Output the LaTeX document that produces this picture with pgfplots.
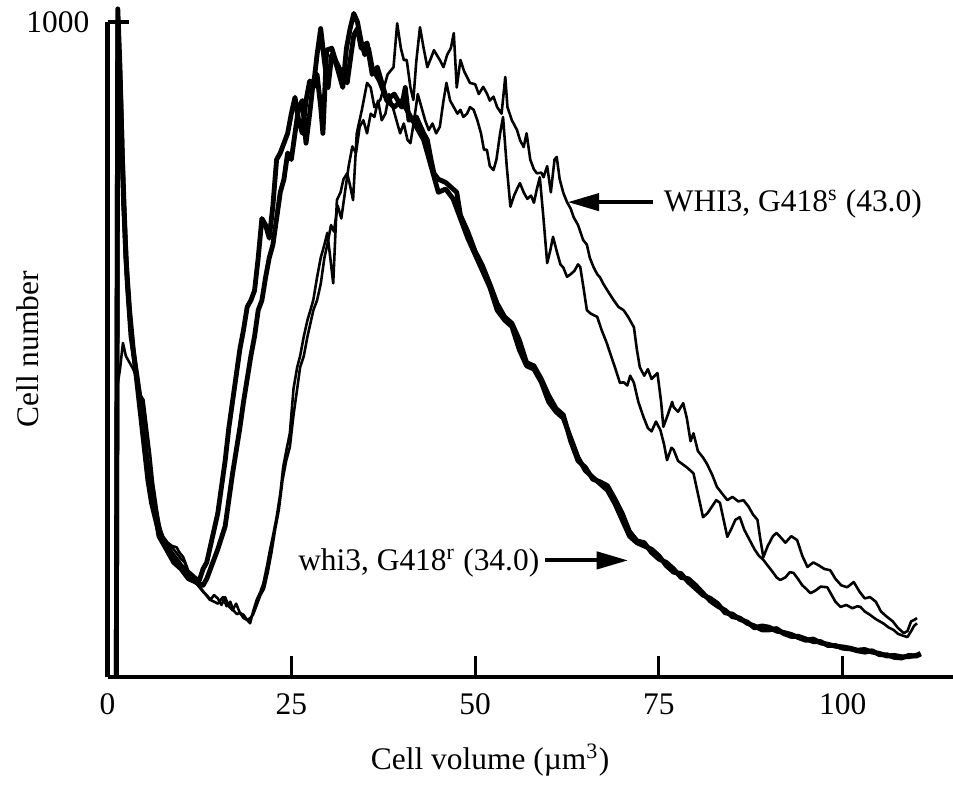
\documentclass[border=0pt]{standalone}
\usepackage{fontspec}
\setmainfont{Liberation Serif}
\usepackage{pgfplots}
\pgfplotsset{compat=1.18}
\usetikzlibrary{arrows.meta}

\begin{document}
\fontsize{11}{13}\selectfont
\begin{tikzpicture}[font=\fontsize{11}{13}\selectfont]
\path[use as bounding box] (-37.625pt,-38.5pt) rectangle (295.925pt,236.95pt);
\begin{axis}[
  scale only axis, width=295.925pt, height=229.25pt,
  anchor=south west, at={(0pt,0pt)},
  xmin=0, xmax=115, ymin=0, ymax=1000,
  axis x line=bottom, axis y line=left,
  axis line style={line width=1.5pt, -},
  tick align=inside, major tick length=7.5pt,
  every tick/.style={line width=1.1pt, black},
  xtick={0,25,50,75,100}, ytick={1000},
  /pgf/number format/assume math mode=true,
  /pgf/number format/set thousands separator={},
  xticklabel style={yshift=-2pt, font=\fontsize{11}{13}\selectfont},
  yticklabel style={xshift=-2.5pt, font=\fontsize{11}{13}\selectfont},
  xlabel={Cell volume (µm\textsuperscript{3})},
  ylabel={Cell number},
  label style={font=\fontsize{11}{13}\selectfont},
  xlabel style={at={(axis description cs:0.4525,-0.1265)}, anchor=center},
  ylabel style={at={(axis description cs:-0.094,0.5)}, anchor=center, rotate=0},
  clip=false,
  every axis plot/.style={black, line join=round, mark=none},
]
% thick curve A1 (whi3, G418r)
\addplot[line width=1.7pt] table {
1.2 0
1.4 1020
1.7 930
2.0 800
2.5 640
3 560
3.5 500
4 450
4.5 400
5 350
5.5 300
6 265
7 220
8 200
9 185
10 170
11 160
12 150
12.5 148
13 165
13.5 175
14 200
15 250
15.5 290
16 330
16.5 380
17 420
17.5 460
18 500
18.5 530
19 565
19.5 575
20 590
20.5 640
21 700
21.5 690
22 670
22.5 720
23 790
23.5 800
24 815
24.5 830
25 860
25.5 885
26 850
26.5 830
27 880
27.5 910
28 900
28.5 950
29 990
29.5 940
30 900
30.5 950
31 940
31.5 920
32 900
32.5 960
33 990
33.5 1013
34 1000
34.5 970
35 950
35.5 960
36 930
37 910
38 880
39 870
40 880
41 860
42 840
43 820
44 780
45 740
46 745
47 730
48 700
49 670
50 645
51 620
52 595
53 560
54 545
55 535
56 500
57 475
58 470
59 450
60 420
61 405
62 395
63 365
64 335
65 315
66 305
67 295
68 285
69 265
70 240
71 215
72 205
73 200
74 195
75 185
76 170
77 160
78 158
79 145
80 135
81 125
82 120
83 112
84 98
85 96
86 88
87 84
88 75
89 78
90 76
91 70
92 68
93 65
94 60
95 56
96 58
97 52
98 50
99 47
100 46
101 44
102 41
103 42
104 38
105 36
106 32
107 33
108 31
109 31
110 33
110.6 36
};
% thick curve A2
\addplot[line width=1.7pt] table {
1.2 0
1.4 1000
1.8 880
2.2 720
2.7 600
3.2 520
4 460
4.5 420
5 372
5.5 320
6 280
6.5 250
7 215
8 195
9 175
10 165
11 150
12 145
13 140
13.5 150
14 165
14.5 180
15 195
16 230
16.5 270
17 310
17.5 345
18 380
18.5 420
19 455
19.5 490
20 520
20.5 560
21 575
21.5 610
22 640
22.5 660
23 700
23.5 740
24 760
24.5 800
25 790
25.5 830
26 870
26.5 880
27 815
27.5 860
28 910
28.5 920
29 870
29.3 830
29.8 957
30.5 960
31 942
31.5 930
32 920
32.6 907
33 940
33.5 980
34 990
34.5 960
35.3 968
36 920
36.7 931
37.5 900
38 881
39 890
40 870
40.5 900
41 850
42 855
43 830
43.5 820
44 790
44.4 769
45 760
46 755
47 745
47.5 740
48 705
49 680
50 650
51 628
52 600
53 570
54 550
55 540
56 515
57 480
58 475
59 455
60 430
61 410
62 400
63 360
64 330
65 320
66 302
67 298
68 292
69 272
70 250
71 222
72 208
73 205
74 190
75 180
76 175
77 165
78 152
79 150
80 140
81 128
82 116
83 108
84 102
85 92
86 90
87 82
88 78
89 72
90 72
91 74
92 66
93 62
94 62
95 58
96 54
97 54
98 48
99 48
100 44
101 43
102 40
103 38
104 40
105 34
106 34
107 30
108 29
109 33
110 32
110.6 35
};
% thin curve B1 (WHI3, G418s)
\addplot[line width=0.9pt] table {
1.2 0
1.4 1010
1.7 900
2.0 760
2.5 620
3 540
3.5 490
4 450
4.5 410
5 375
5.5 330
6 300
6.5 265
7 235
7.5 215
8 205
8.5 200
9 195
9.5 188
10 180
10.5 175
11 160
11.5 150
12 145
12.5 137
13 130
13.5 125
14 118
14.5 125
15 120
15.5 110
16 122
16.5 108
17 102
17.5 112
18 98
18.5 95
19 87
19.4 82
19.8 100
20.3 118
20.8 130
21.2 143
21.7 170
22.1 194
22.5 215
23 244
23.5 280
23.9 321
24.4 350
24.8 372
25.3 440
25.8 473
26.2 490
26.7 520
27.2 545
27.6 560
28 576
28.5 610
29 640
29.5 660
29.9 678
30.3 640
30.7 601
31.2 728
31.7 740
32.1 760
32.6 769
33 750
33.4 728
33.9 830
34.6 866
35.3 907
35.8 900
36.3 870
37.1 881
37.6 900
38.1 920
38.9 931
39.4 998
39.9 960
40.3 942
40.7 942
41.2 900
41.6 881
42 940
42.5 992
43 960
43.5 931
44 945
44.4 957
45.2 942
45.7 931
46.2 950
46.7 960
47.1 983
47.5 900
48 942
48.5 925
49.3 907
50 905
50.5 890
51.1 901
51.6 891
52 880
52.5 886
53 870
53.6 860
54.1 916
54.4 870
55 850
55.7 835
56.1 820
56.6 809
57 830
57.5 790
58 775
58.4 769
59 770
59.3 763
59.8 780
60.3 740
60.8 790
61.1 794
61.5 760
62 739
62.5 725
63 715
63.4 702
64 690
64.7 667
65.2 660
65.6 640
66.1 626
66.6 615
67 610
67.4 601
68 590
68.8 576
69.5 565
70.2 560
70.8 550
71.6 534
72 500
72.4 473
73 460
73.5 470
74 455
74.8 464
75.3 420
75.6 382
76.2 400
76.8 420
77 412
77.6 405
78.3 418
78.8 395
79.3 360
79.7 372
80.3 345
81 335
81.5 326
82.2 310
82.9 290
83.6 280
84.3 270
85 275
85.8 268
86.5 270
87.2 260
87.8 248
88.4 240
88.8 210
89.2 183
89.8 200
90.5 215
91 220
91.5 214
92.2 205
93 215
93.8 209
94.5 185
95.2 168
96 175
96.8 170
97.5 165
98.3 163
99 150
99.8 140
100.6 137
101.5 145
102.3 130
103 120
103.7 122
104.5 115
105.2 100
106 92
106.8 85
107.5 75
108.3 67
108.8 70
109.3 85
109.7 87
110.1 90
};
% thin curve B2
\addplot[line width=0.9pt] table {
1.2 0
1.3 440
1.7 470
2.1 510
2.5 490
3 480
3.5 470
4 455
4.5 430
4.9 423
5.4 377
5.8 340
6.2 296
6.8 250
7.2 225
7.6 214
8.2 205
8.8 200
9.4 198
9.8 190
10.3 183
10.8 168
11.2 153
11.8 145
12.6 137
13.2 128
13.9 118
14.5 115
15 112
15.7 122
16.2 108
16.7 115
17.1 102
17.6 96
18 98
18.5 90
19 87
19.4 90
19.8 95
20.3 110
20.8 125
21.3 135
21.8 160
22.3 190
22.8 225
23.3 255
23.8 300
24.3 330
24.8 351
25.3 400
25.8 440
26.2 473
26.7 490
27.2 520
27.6 540
28 560
28.5 575
29 600
29.5 640
29.9 660
30.4 690
30.8 680
31.3 720
31.8 700
32.3 740
32.8 780
33.3 810
33.8 800
34.3 840
34.8 850
35.3 830
35.8 860
36.3 855
36.8 880
37.3 850
37.8 860
38.3 890
38.8 870
39.3 850
39.8 830
40.3 845
40.8 820
41.2 815
41.7 850
42.2 890
42.7 870
43.2 850
43.7 835
44.2 845
44.7 830
45.2 840
45.7 880
46.1 907
46.6 880
47.1 870
47.6 860
48 866
48.4 855
48.9 860
49.3 870
49.8 866
50.3 850
50.8 830
51.2 805
51.6 805
52 780
52.5 774
52.9 790
53.4 830
53.8 855
54.3 780
54.8 718
55.3 735
55.7 745
56.1 754
56.6 740
57.1 730
57.6 735
58 724
58.4 745
58.8 763
59.3 700
59.8 632
60.2 650
60.6 672
61.1 650
61.6 630
62 625
62.5 611
63 615
63.5 620
64 630
64.3 626
64.8 590
65.2 560
65.7 555
66.2 552
66.6 550
67.2 530
67.9 510
68.5 490
69.1 470
69.7 449
70.2 450
70.7 445
71.1 460
71.6 449
72.2 420
72.9 397
73.5 380
74 375
74.6 390
75.2 377
75.7 355
76.1 331
76.7 350
77 347
77.6 330
78.2 325
78.8 320
79.3 315
79.7 311
80.3 280
81 244
81.6 250
82.2 260
82.8 270
83.3 266
83.8 240
84.3 214
84.8 225
85.4 240
86 244
86.6 225
87.3 210
88 195
88.6 185
89.2 179
89.8 170
90.5 160
91 152
91.5 148
92.2 152
92.8 160
93.3 159
93.9 150
94.5 140
95 135
95.6 128
96.3 132
97 138
97.9 137
98.5 125
99 115
99.7 107
100.5 110
101.3 105
102 108
102.4 107
103 100
103.7 95
104.3 90
104.7 87
105.5 82
106.2 76
106.9 72
107.5 66
108.2 63
108.8 61
109.3 70
109.7 78
110.1 82
};
% annotations
\draw[line width=1.4pt, -{Triangle[length=11pt,width=6pt]}] (axis cs:74.2,725) -- (axis cs:62.6,725);
\node[anchor=west, inner sep=0pt] at (axis cs:75.6,722) {WHI3, G418\textsuperscript{s} (43.0)};
\draw[line width=1.4pt, -{Triangle[length=11pt,width=6pt]}] (axis cs:59.5,178) -- (axis cs:70.8,178);
\node[anchor=east, inner sep=0pt] at (axis cs:58.8,174) {whi3, G418\textsuperscript{r} (34.0)};
\end{axis}
\end{tikzpicture}
\end{document}
